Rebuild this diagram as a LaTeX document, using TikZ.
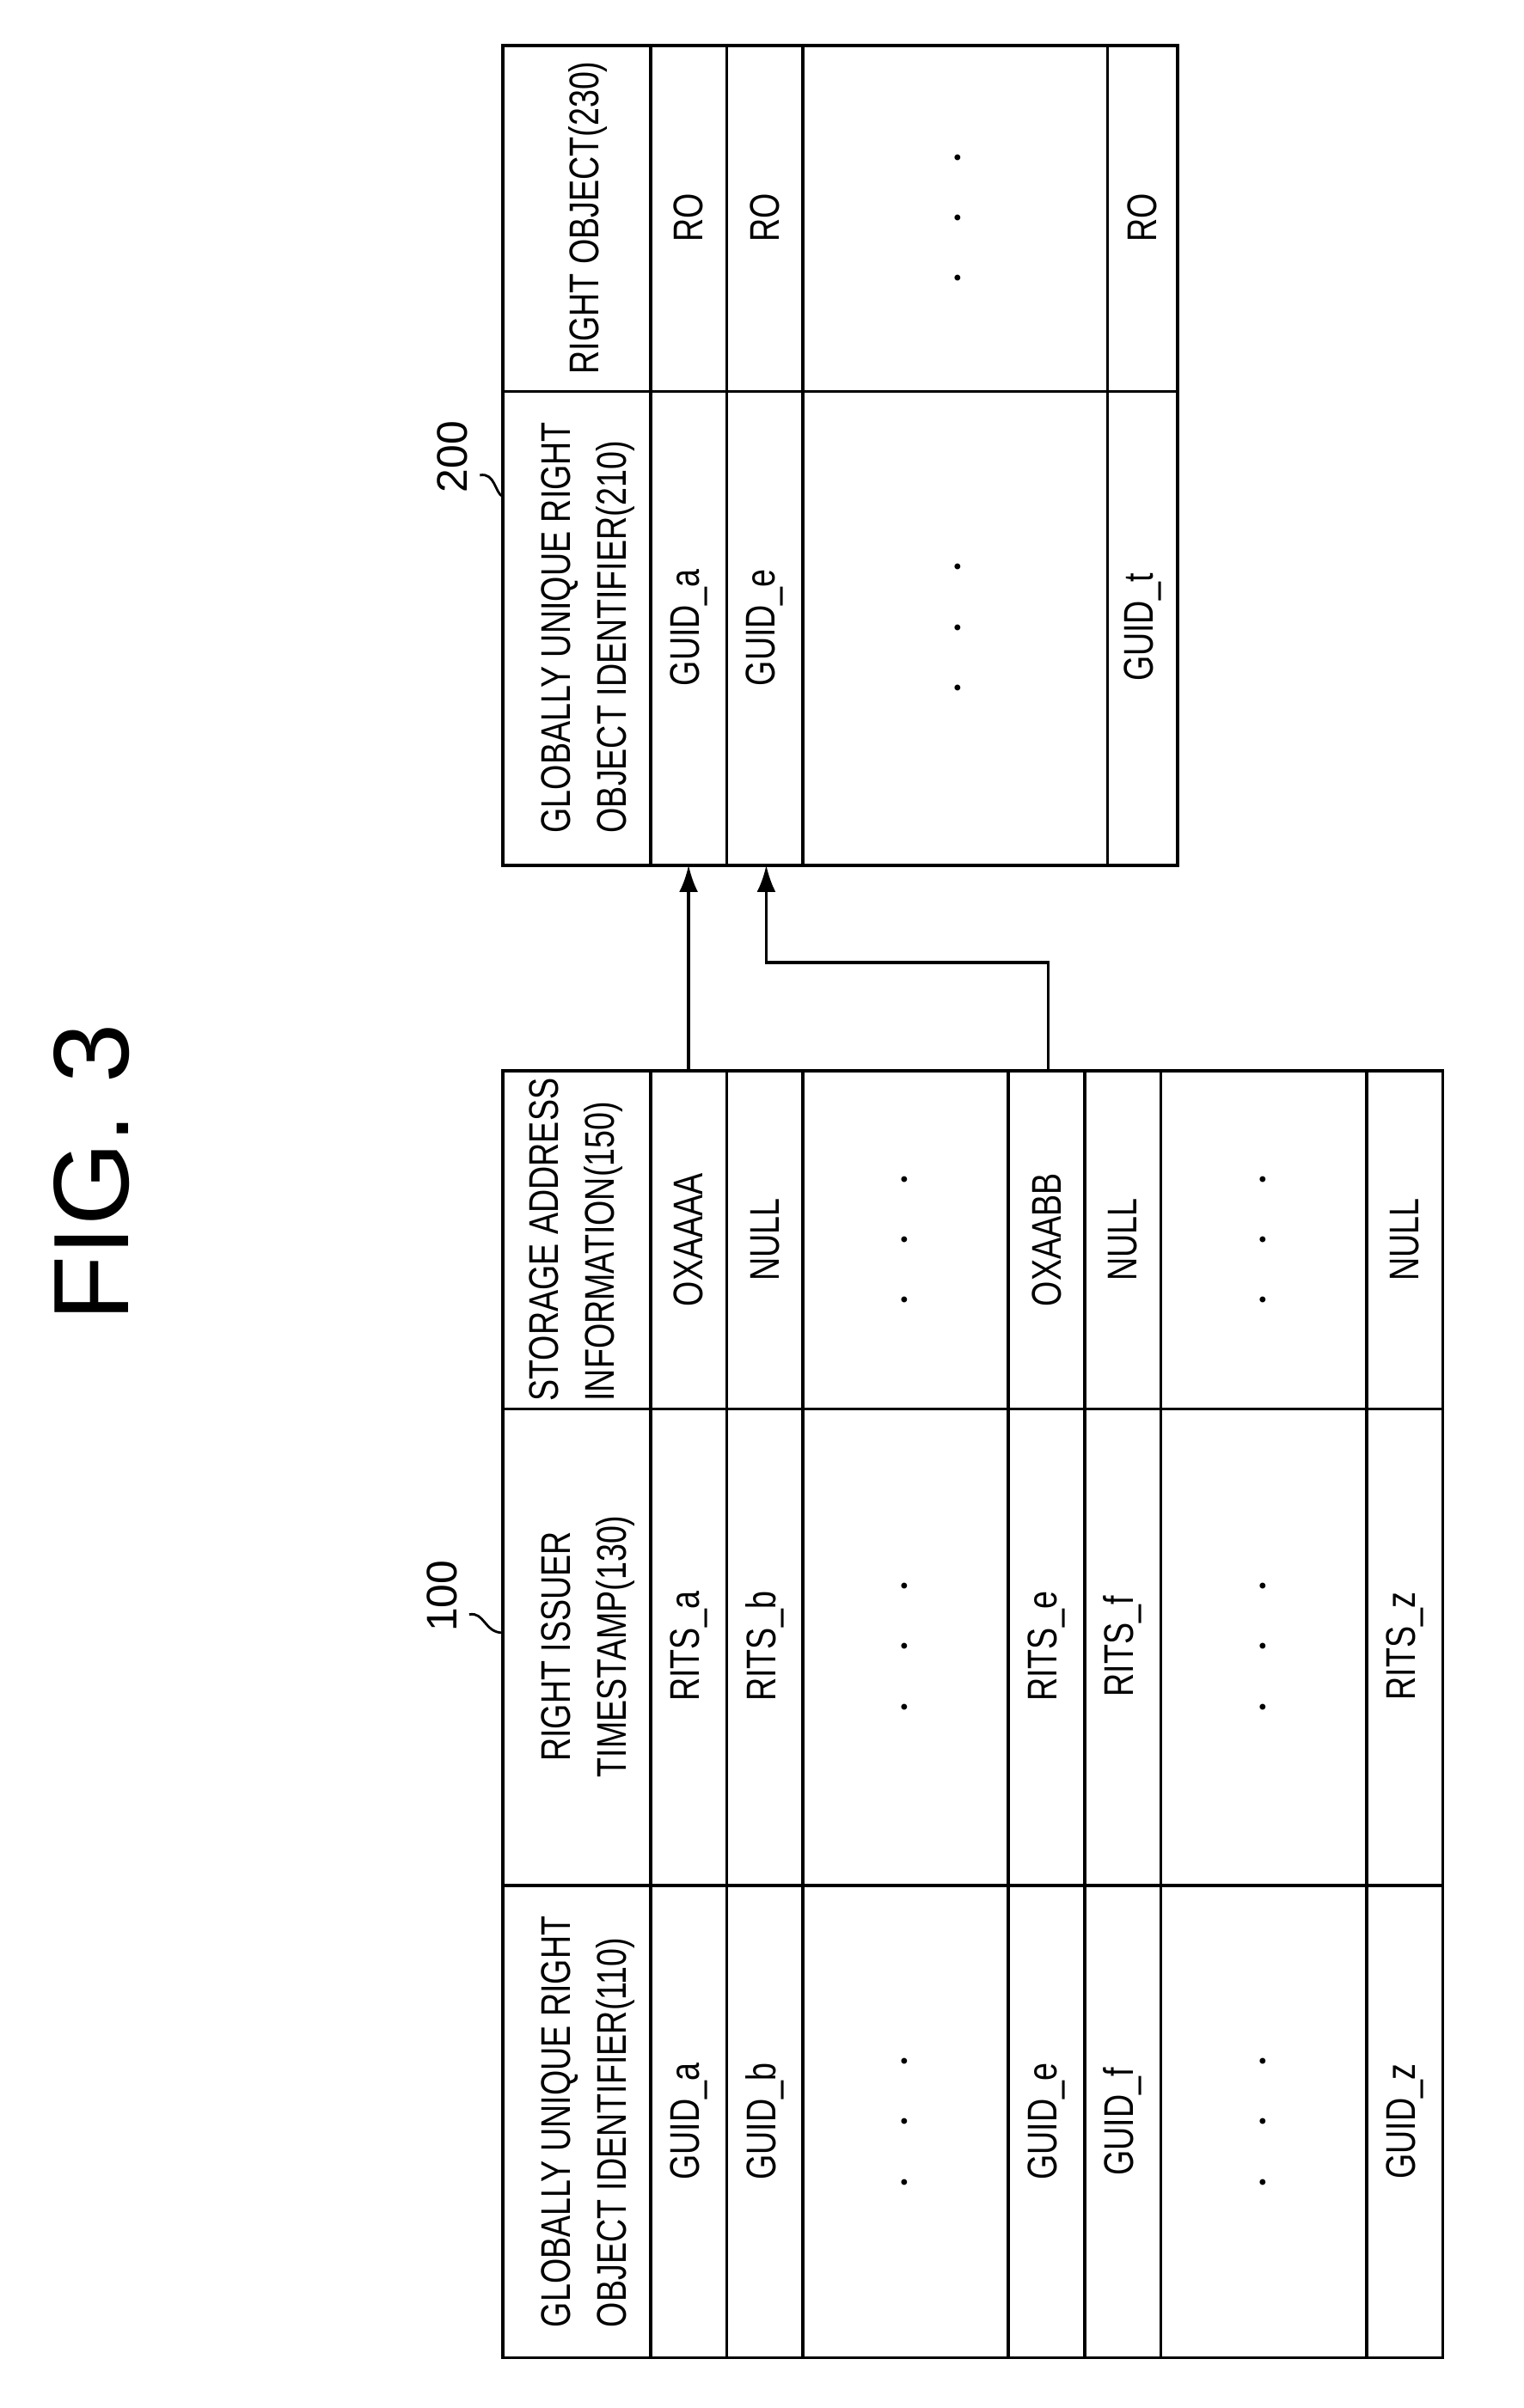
\documentclass[tikz,border=0pt]{standalone}
\usepackage{fontspec}
\setmainfont{Liberation Sans}
\newfontfamily\narrow[FakeStretch=0.78]{Liberation Sans}
\usetikzlibrary{positioning,arrows.meta}
\tikzset{
  cell/.style={rotate=90,font=\narrow\fontsize{15.5}{21}\selectfont,inner sep=0pt},
  dots/.style={rotate=90,font=\fontsize{22}{24}\selectfont,inner sep=0pt},
  grid/.style={line width=1.2pt},
  link/.style={line width=1.1pt,-{Latex[length=10pt,width=7pt]}}
}
\newcommand{\tdots}{$\cdot\ \ \cdot\ \ \cdot$}
\begin{document}
\begin{tikzpicture}[x=0.02cm,y=-0.02cm]
  \useasboundingbox (0,0) rectangle (1000,1581);
  \node[rotate=90,font=\fontsize{40}{44}\selectfont] (fig) at (60,770) {FIG. 3};

  % table 100
  \draw[grid] (330,703) rectangle (947,1548);
  \foreach \y in {925,1238} \draw[grid] (330,\y) -- (947,\y);
  \foreach \x in {427,477,527,662,712,762,897} \draw[grid] (\x,703) -- (\x,1548);
  \node[cell,align=left] (h110) at (386,1393) {GLOBALLY UNIQUE RIGHT\\OBJECT IDENTIFIER(110)};
  \node[cell,align=center] (h130) at (386,1081) {RIGHT ISSUER\\TIMESTAMP(130)};
  \node[cell,align=left] (h150) at (378,814) {STORAGE ADDRESS\\INFORMATION(150)};
  \foreach \x/\g/\r/\s in {452/a/a/OXAAAA,502/b/b/NULL,687/e/e/OXAABB,737/f/f/NULL,922/z/z/NULL}{
    \node[cell] (g\g) at (\x,1393) {GUID\_\g};
    \node[cell] (r\r) at (\x,1081) {RITS\_\r};
    \node[cell] (s\g) at (\x,814) {\s};
  }
  \foreach \x/\n in {595/a,830/b}{
    \node[dots] (dg\n) at (\x,1393) {\tdots};
    \node[dots] (dr\n) at (\x,1081) {\tdots};
    \node[dots] (ds\n) at (\x,814) {\tdots};
  }
  \node[cell,font=\fontsize{16}{18}\selectfont] (l100) at (290,1048) {100};
  \draw[line width=0.9pt] (308,1060) .. controls (318,1058) and (318,1072) .. (330,1072);

  % table 200
  \draw[grid] (330,30) rectangle (773,568);
  \draw[grid] (330,257) -- (773,257);
  \foreach \x in {427,477,527,727} \draw[grid] (\x,30) -- (\x,568);
  \node[cell,align=left] (h210) at (386,412) {GLOBALLY UNIQUE RIGHT\\OBJECT IDENTIFIER(210)};
  \node[cell] (h230) at (386,143) {RIGHT OBJECT(230)};
  \foreach \x/\g in {452/a,502/e,750/t}{
    \node[cell] (q\g) at (\x,412) {GUID\_\g};
    \node[cell] (o\g) at (\x,143) {RO};
  }
  \node[dots] (dq) at (630,412) {\tdots};
  \node[dots] (do) at (630,143) {\tdots};
  \node[cell,font=\fontsize{16}{18}\selectfont] (l200) at (297,300) {200};
  \draw[line width=0.9pt] (315,312) .. controls (325,310) and (325,324) .. (330,326);

  % links
  \coordinate (fa) at (452,703);
  \coordinate (ta) at (452,568);
  \coordinate (fe) at (688,703);
  \coordinate (te) at (503,568);
  \draw[link] (fa) -- (ta);
  \draw[link] (fe) -- (688,632) -| (te);
\end{tikzpicture}
\end{document}
